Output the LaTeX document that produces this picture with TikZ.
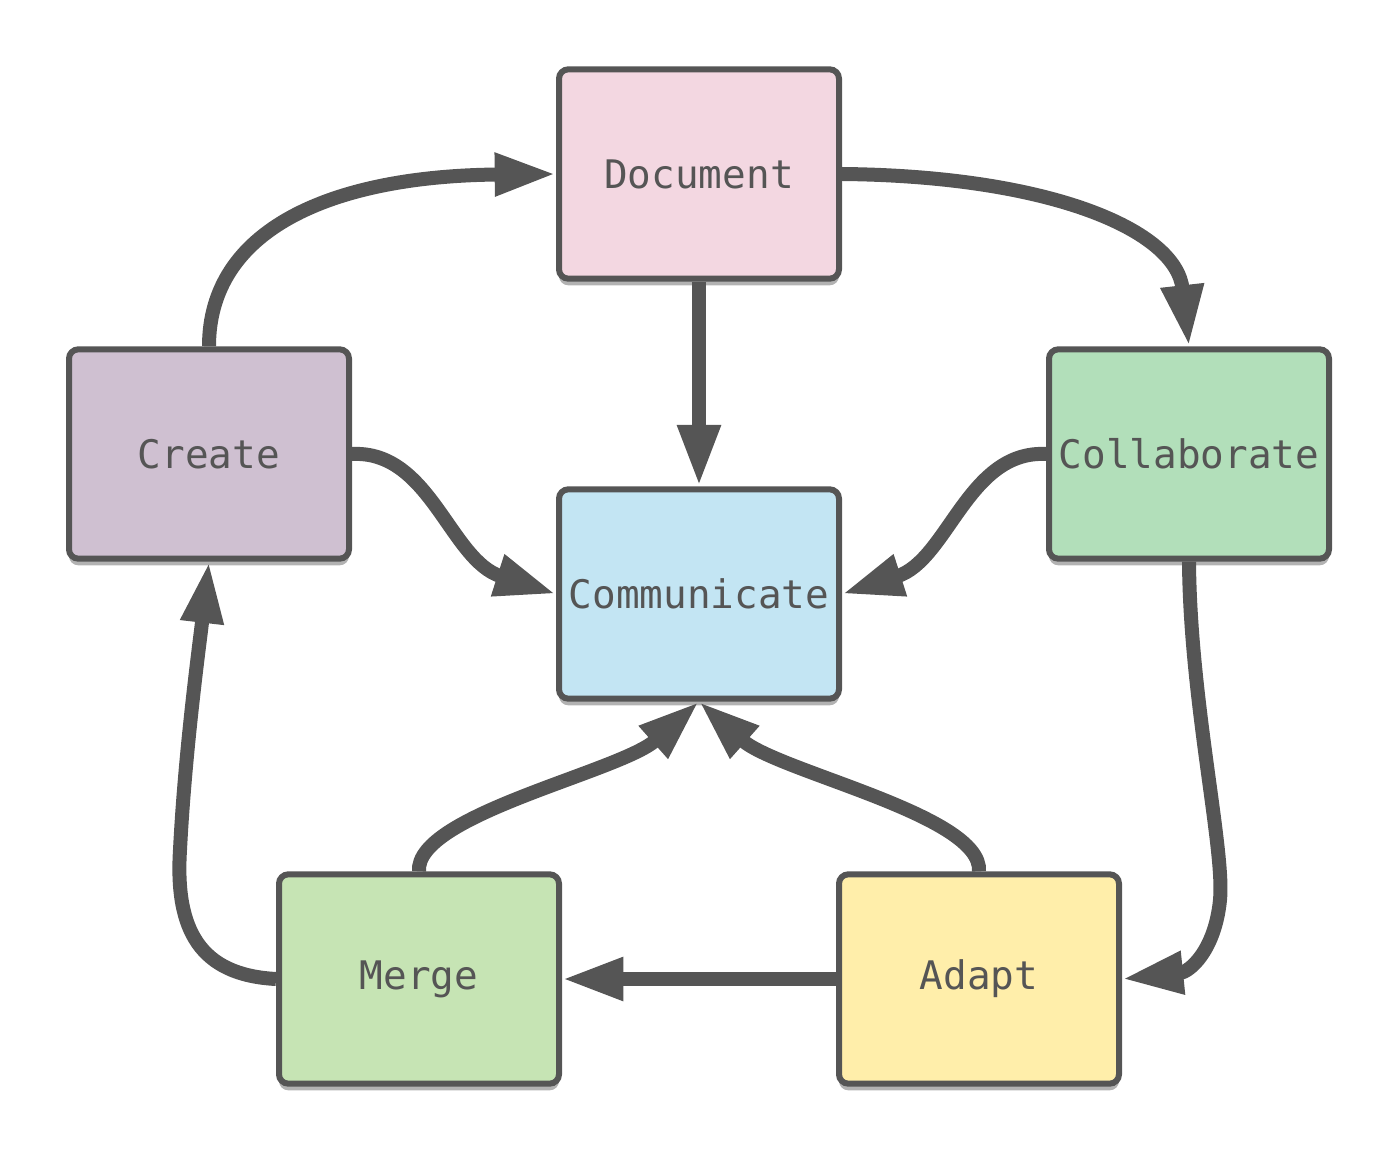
\documentclass[tikz,border=0pt]{standalone}
\usepackage{fontspec}
\setmonofont{DejaVu Sans Mono}
\usetikzlibrary{arrows.meta,shadows}

\definecolor{inkgray}{HTML}{555555}
\definecolor{docpink}{HTML}{F3D7E1}
\definecolor{createlilac}{HTML}{CFC0D1}
\definecolor{collabgreen}{HTML}{B2DFBA}
\definecolor{commblue}{HTML}{C3E5F3}
\definecolor{mergegreen}{HTML}{C6E4B4}
\definecolor{adaptyellow}{HTML}{FFEEAA}

\tikzset{every picture/.style={line width=0.75pt}}
\tikzset{
  stagebox/.style={draw=inkgray, line width=4.5pt, rounded corners=7pt,
    minimum width=210pt, minimum height=157pt, inner sep=0pt,
    text=inkgray, font=\ttfamily\fontsize{29.5}{33}\selectfont,
    drop shadow={shadow xshift=0pt, shadow yshift=-5pt, fill=black, opacity=0.3}},
  flow/.style={draw=inkgray, line width=10.5pt,
    -{Triangle[length=46pt, width=30pt]}}
}

\begin{document}
\begin{tikzpicture}[x=0.75pt,y=0.75pt,yscale=-1,xscale=1]
\useasboundingbox (0,0) rectangle (1400,1155);

%Shape: Rounded Rect
\node [stagebox, fill=docpink] (document) at (699,174) {Document};
\node [stagebox, fill=createlilac] (create) at (209,454) {Create};
\node [stagebox, fill=collabgreen] (collab) at (1189,454) {Collaborate};
\node [stagebox, fill=commblue] (comm) at (699,594) {Communicate};
\node [stagebox, fill=mergegreen] (merge) at (419,979) {Merge};
\node [stagebox, fill=adaptyellow] (adapt) at (979,979) {Adapt};

%Curve Lines
\draw [flow] (create.north) .. controls (209,230) and (330,176) .. (document.west);
\draw [flow] (document.east) .. controls (1050,176) and (1176,230) .. (collab.north);
\draw [flow] (create.east) .. controls (430,450) and (450,560) .. (comm.west);
\draw [flow] (collab.west) .. controls (968,450) and (948,560) .. (comm.east);
\draw [flow] (collab.south) .. controls (1190,700) and (1225,850) .. (1220,900) .. controls (1215,950) and (1190,972) .. (adapt.east);
\draw [flow] (merge.west) .. controls (200,975) and (175,930) .. (180,850) .. controls (185,750) and (200,640) .. (create.south);
\draw [flow] (merge.north) .. controls (415,815) and (620,772) .. (comm.south);
\draw [flow] (adapt.north) .. controls (983,815) and (778,772) .. (comm.south);

%Straight Lines
\draw [flow] (document.south) -- (comm.north);
\draw [flow] (adapt.west) -- (merge.east);

\end{tikzpicture}
\end{document}
